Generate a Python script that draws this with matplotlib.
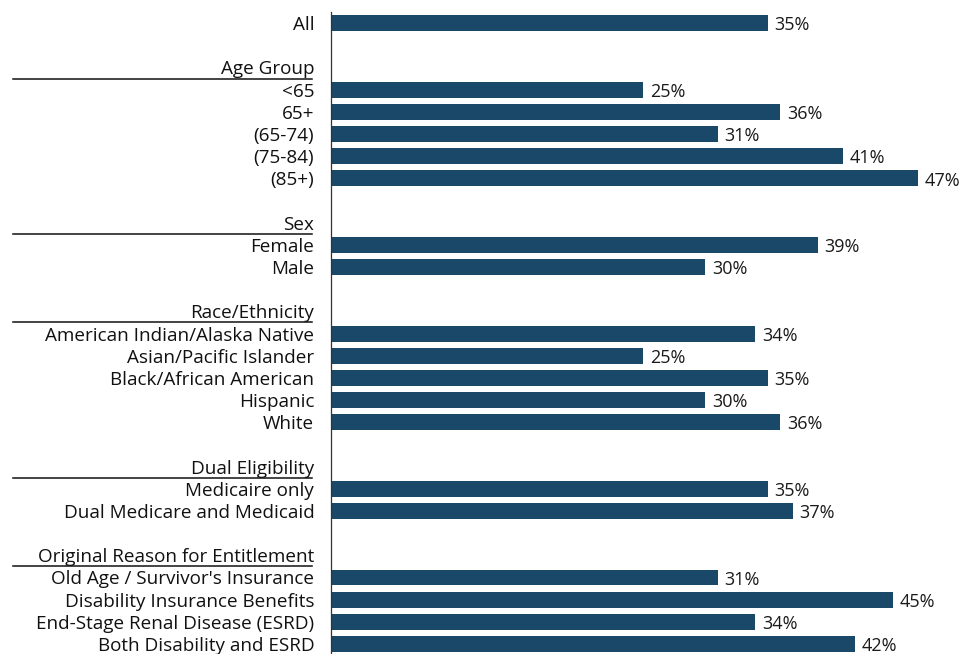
import matplotlib
matplotlib.use("Agg")
import matplotlib.pyplot as plt

plt.rcParams['font.family'] = ['Open Sans', 'DejaVu Sans']

labels = ["All", "", "Age Group", "<65", "65+", "(65-74)", "(75-84)", "(85+)", "",
          "Sex", "Female", "Male", "",
          "Race/Ethnicity", "American Indian/Alaska Native", "Asian/Pacific Islander",
          "Black/African American", "Hispanic", "White", "",
          "Dual Eligibility", "Medicaire only", "Dual Medicare and Medicaid", "",
          "Original Reason for Entitlement", "Old Age / Survivor's Insurance",
          "Disability Insurance Benefits", "End-Stage Renal Disease (ESRD)",
          "Both Disability and ESRD"]
values = [35, None, None, 25, 36, 31, 41, 47, None,
          None, 39, 30, None,
          None, 34, 25, 35, 30, 36, None,
          None, 35, 37, None,
          None, 31, 45, 34, 42]
headers = ["Age Group", "Sex", "Race/Ethnicity", "Dual Eligibility",
           "Original Reason for Entitlement"]

W, H = 964, 654
fig = plt.figure(figsize=(W/100, H/100), dpi=100)
ax_left = 331 / W
ax = fig.add_axes([ax_left, 0, (955 - 331) / W, (654 - 12) / H])

bar_color = "#1a4868"
for i, v in enumerate(values):
    if v is not None:
        ax.barh(i, v, height=0.72, color=bar_color, left=0)
        ax.text(v + 0.55, i + 0.1, f"{v}%", va="center", ha="left",
                fontsize=13, color="#1a1a1a", fontweight="medium")

ax.set_xlim(0, 50)
ax.set_ylim(28.45, -0.5)
for s in ["top", "right", "bottom"]:
    ax.spines[s].set_visible(False)
ax.spines["left"].set_color("#333333")
ax.spines["left"].set_linewidth(0.9)
ax.set_xticks([])
ax.set_yticks(range(len(labels)))
ax.set_yticklabels(labels, fontsize=13.6, color="#111111", fontweight="medium")
ax.tick_params(axis="y", length=0, pad=12)

# header underlines
trans = matplotlib.transforms.blended_transform_factory(fig.transFigure, ax.transData)
for i, lab in enumerate(labels):
    if lab in headers:
        ax.plot([13 / W, 312 / W], [i + 0.5, i + 0.5], transform=trans,
                color="#111111", lw=1.1, clip_on=False)

fig.savefig("out.png", dpi=100)
